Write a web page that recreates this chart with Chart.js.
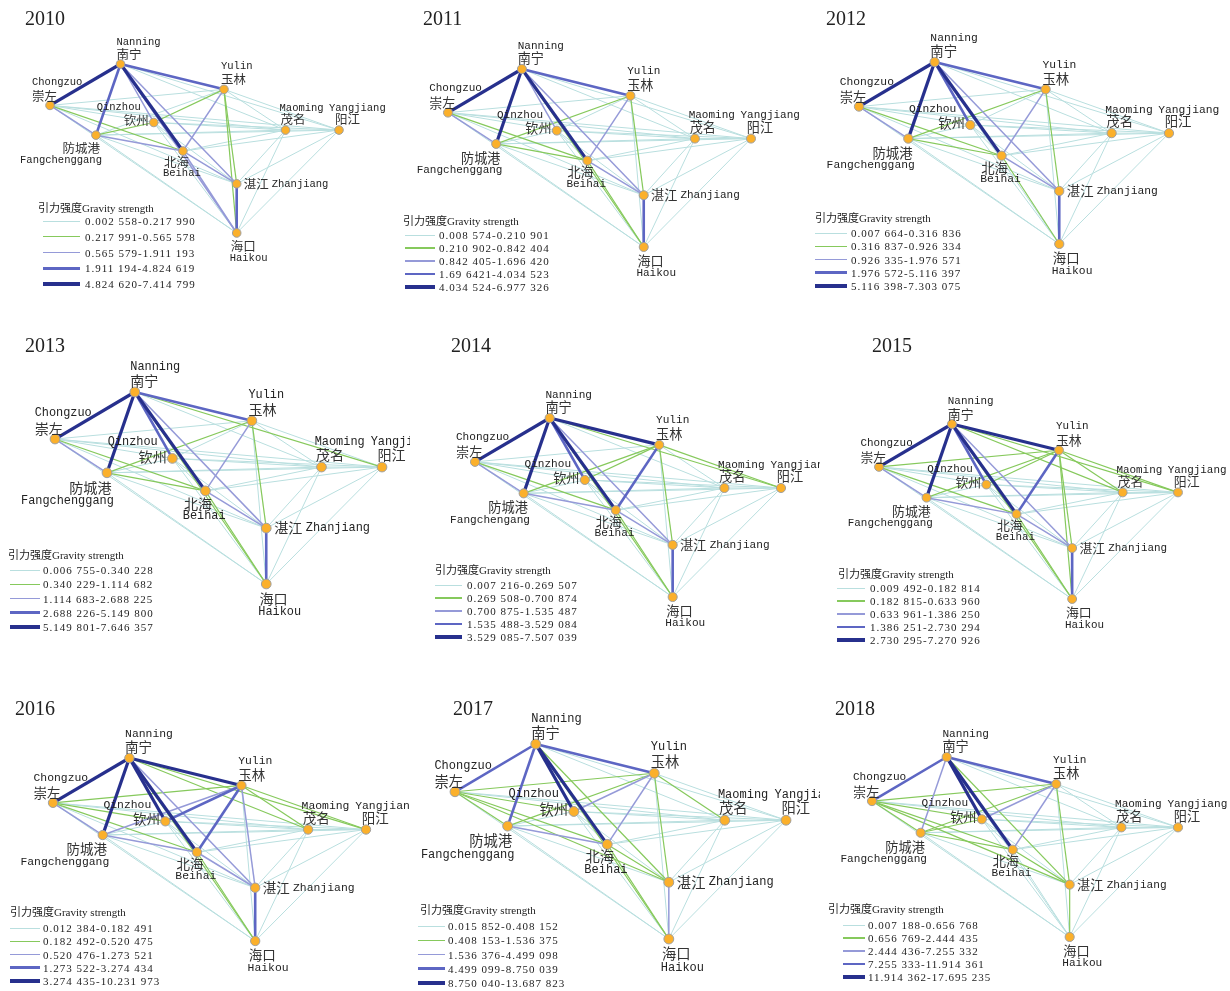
<!DOCTYPE html>
<html>
<head>
<meta charset="utf-8">
<script src="https://cdn.jsdelivr.net/npm/chart.js@4.4.1/dist/chart.umd.min.js"></script>
<style>
  body { margin: 0; background: #fff; width: 1230px; height: 991px; position: relative; overflow: hidden; }
  canvas { position: absolute; }
  .year { position: absolute; font: 20px "Liberation Serif", serif; color: #222; transform: translateY(-50%); white-space: nowrap; }
  .lg-title { position: absolute; font: 11px "Liberation Serif", "Noto Sans CJK SC", serif; color: #222; transform: translateY(-50%); white-space: nowrap; }
  .lg-text { position: absolute; font: 11px "Liberation Serif", serif; letter-spacing: 1px; color: #222; transform: translateY(-50%); white-space: nowrap; }
  .lg-line { position: absolute; }
</style>
</head>
<body>
<script>
/* DATA */

const years = ['2010', '2011', '2012', '2013', '2014', '2015', '2016', '2017', '2018'];

const cityZh = ['南宁', '崇左', '玉林', '钦州', '防城港', '北海', '茂名', '阳江', '湛江', '海口'];
const cityEn = ['Nanning', 'Chongzuo', 'Yulin', 'Qinzhou', 'Fangchenggang', 'Beihai', 'Maoming', 'Yangjiang', 'Zhanjiang', 'Haikou'];

// relative map position of each city (x to the east, y downwards)
const nodeX = [24.4, 0, 60.2, 35.9, 15.9, 46.0, 81.5, 100, 64.6, 64.6];
const nodeY = [0, 24.5, 15.0, 34.6, 42.1, 51.5, 39.1, 39.1, 70.9, 100];

// gravity class (1..5) of each city pair, row i holds pairs (i, i+1) ... (i, 9)
const links2010 = [[5,4,3,4,5,1,1,3,3],[1,1,3,2,1,1,1,1],[2,1,3,1,1,2,2],[2,1,1,1,1,1],[3,1,1,1,1],[1,1,3,3],[1,1,1],[1,1],[4]];
const links2011 = [[5,4,3,5,5,1,1,3,2],[1,1,3,2,1,1,1,1],[1,2,3,1,1,2,1],[1,1,1,1,1,1],[2,1,1,1,1],[1,1,3,2],[1,1,1],[1,1],[4]];
const links2012 = [[5,4,4,5,5,1,1,3,1],[1,1,3,2,1,1,1,1],[1,2,3,1,1,2,1],[1,1,1,1,1,1],[2,1,1,1,1],[1,1,3,2],[1,1,1],[1,1],[4]];
const links2013 = [[5,4,4,5,5,1,2,3,2],[1,1,3,2,1,1,1,1],[1,2,3,1,1,2,1],[1,1,1,1,1,1],[2,1,1,1,1],[1,1,3,2],[1,1,1],[1,1],[4]];
const links2014 = [[5,5,4,5,5,1,2,3,2],[1,1,3,2,1,1,1,1],[2,2,4,1,2,2,1],[1,1,1,1,1,1],[3,1,1,1,1],[1,1,3,2],[1,1,1],[1,1],[4]];
const links2015 = [[5,5,4,5,5,2,2,3,2],[2,1,3,2,1,1,1,1],[2,2,4,2,2,2,2],[1,1,1,1,1,1],[3,1,1,1,1],[1,1,3,2],[1,1,1],[1,1],[4]];
const links2016 = [[5,5,5,5,5,2,2,3,2],[2,2,3,2,1,1,1,1],[4,3,4,2,2,3,1],[1,1,1,1,1,1],[3,1,1,1,1],[1,1,3,2],[1,1,1],[1,1],[4]];
const links2017 = [[4,4,5,4,5,1,1,2,2],[2,2,2,2,1,1,2,1],[3,2,3,2,1,2,1],[1,1,1,1,1,1],[3,1,1,1,1],[1,1,2,2],[1,1,1],[1,1],[3]];
const links2018 = [[4,4,5,3,5,1,1,2,1],[2,2,2,2,1,1,2,1],[3,2,3,1,1,2,1],[2,1,1,1,1,1],[2,1,1,1,1],[1,1,2,1],[1,1,1],[1,1],[2]];

const breaks2010 = ['0.002 558-0.217 990', '0.217 991-0.565 578', '0.565 579-1.911 193', '1.911 194-4.824 619', '4.824 620-7.414 799'];
const breaks2011 = ['0.008 574-0.210 901', '0.210 902-0.842 404', '0.842 405-1.696 420', '1.69 6421-4.034 523', '4.034 524-6.977 326'];
const breaks2012 = ['0.007 664-0.316 836', '0.316 837-0.926 334', '0.926 335-1.976 571', '1.976 572-5.116 397', '5.116 398-7.303 075'];
const breaks2013 = ['0.006 755-0.340 228', '0.340 229-1.114 682', '1.114 683-2.688 225', '2.688 226-5.149 800', '5.149 801-7.646 357'];
const breaks2014 = ['0.007 216-0.269 507', '0.269 508-0.700 874', '0.700 875-1.535 487', '1.535 488-3.529 084', '3.529 085-7.507 039'];
const breaks2015 = ['0.009 492-0.182 814', '0.182 815-0.633 960', '0.633 961-1.386 250', '1.386 251-2.730 294', '2.730 295-7.270 926'];
const breaks2016 = ['0.012 384-0.182 491', '0.182 492-0.520 475', '0.520 476-1.273 521', '1.273 522-3.274 434', '3.274 435-10.231 973'];
const breaks2017 = ['0.015 852-0.408 152', '0.408 153-1.536 375', '1.536 376-4.499 098', '4.499 099-8.750 039', '8.750 040-13.687 823'];
const breaks2018 = ['0.007 188-0.656 768', '0.656 769-2.444 435', '2.444 436-7.255 332', '7.255 333-11.914 361', '11.914 362-17.695 235'];

const allLinks = [links2010, links2011, links2012, links2013, links2014, links2015, links2016, links2017, links2018];
const allBreaks = [breaks2010, breaks2011, breaks2012, breaks2013, breaks2014, breaks2015, breaks2016, breaks2017, breaks2018];

/* STYLE + LAYOUT */

const lineColor = ['#b9dfdf', '#86c95c', '#959ad8', '#5d66c3', '#27308d'];
const lineWidth = [1, 1.2, 1.5, 2.6, 3.2];
const legendWidth = [1, 1.3, 1.6, 2.6, 3.4];

// cell = canvas rect, box = pixel extent of the nodes (left, top, right, bottom)
// legend = [titleX, titleY, lineX, lineLen, textX, firstRowY, rowGap]
const panels = [
  { cell: [0, 0, 410, 330],     box: [50, 64, 339, 233],   title: [25, 18],   legend: [38, 207, 43, 37, 85, 221, 15.75] },
  { cell: [410, 0, 410, 330],   box: [448, 69, 751, 247],  title: [423, 18],  legend: [403, 220, 405, 30, 439, 235, 13] },
  { cell: [820, 0, 410, 330],   box: [859, 62, 1169, 244], title: [826, 18],  legend: [815, 217, 815, 32, 851, 233, 13.25] },
  { cell: [0, 330, 410, 360],   box: [55, 392, 382, 584],  title: [25, 345],  legend: [8, 554, 10, 30, 43, 570, 14.25] },
  { cell: [410, 330, 410, 360], box: [475, 418, 781, 597], title: [451, 345], legend: [435, 569, 435, 27, 467, 585, 13] },
  { cell: [820, 330, 410, 360], box: [879, 424, 1178, 599], title: [872, 345], legend: [838, 573, 837, 28, 870, 588, 13] },
  { cell: [0, 690, 410, 301],   box: [53, 758, 366, 941],  title: [15, 708],  legend: [10, 911, 10, 30, 43, 928, 13.25] },
  { cell: [410, 690, 410, 301], box: [455, 744, 786, 939], title: [453, 708], legend: [420, 909, 418, 27, 448, 926, 14.25] },
  { cell: [820, 690, 410, 301], box: [872, 757, 1178, 937], title: [835, 708], legend: [828, 908, 843, 22, 868, 925, 13] },
];

// [enDx, enDy, enAlign, zhDx, zhDy, zhAlign] at base scale; Zhanjiang puts English after the Chinese
const labelPos = [
  [-4, -22, 'left', -4, -10, 'left'],
  [-18, -23, 'left', -18, -9, 'left'],
  [-3, -23, 'left', -3, -10, 'left'],
  [-13, -15, 'right', -5, -2, 'right'],
  [6, 25, 'right', 4, 13, 'right'],
  [-20, 22, 'left', -19, 11, 'left'],
  [-6, -22, 'left', -5, -11, 'left'],
  [-10, -22, 'left', -4, -11, 'left'],
  ['after', 0, 'left', 7, 0, 'left'],
  [-7, 25, 'left', -6, 13, 'left'],
];

const cityLabels = {
  id: 'cityLabels',
  afterDatasetsDraw(chart, args, opts) {
    const ctx = chart.ctx;
    const sx = chart.scales.x, sy = chart.scales.y;
    const s = opts.scale;
    const names = opts.names;
    ctx.save();
    ctx.textBaseline = 'middle';
    nodeX.forEach(function(v, i) {
      const px = sx.getPixelForValue(v);
      const py = sy.getPixelForValue(nodeY[i]);
      const p = labelPos[i];
      ctx.fillStyle = '#333';
      ctx.font = (12.5 * s).toFixed(1) + 'px "Noto Sans CJK SC"';
      ctx.textAlign = p[5];
      ctx.fillText(cityZh[i], px + p[3] * s, py + p[4] * s);
      const zw = ctx.measureText(cityZh[i]).width;
      ctx.fillStyle = '#222';
      ctx.font = (10.5 * s).toFixed(1) + 'px "Liberation Mono"';
      ctx.textAlign = p[2];
      const ex = p[0] === 'after' ? px + p[3] * s + zw + 3 * s : px + p[0] * s;
      ctx.fillText(names[i], ex, py + p[1] * s);
    });
    ctx.restore();
  }
};

function addDiv(cls, text, left, top) {
  const d = document.createElement('div');
  d.className = cls;
  d.textContent = text;
  d.style.left = left + 'px';
  d.style.top = top + 'px';
  document.body.appendChild(d);
  return d;
}

panels.forEach(function(p, k) {
  const links = allLinks[k];
  const [cl, ct, cw, ch] = p.cell;
  const [bl, bt, br, bb] = p.box;
  const s = (br - bl) / 289;

  const canvas = document.createElement('canvas');
  canvas.width = cw;
  canvas.height = ch;
  canvas.style.left = cl + 'px';
  canvas.style.top = ct + 'px';
  canvas.style.width = cw + 'px';
  canvas.style.height = ch + 'px';
  document.body.appendChild(canvas);

  const datasets = [{
    data: nodeX.map(function(x, i) { return { x: x, y: nodeY[i] }; }),
    pointRadius: 4.3 * s,
    pointBackgroundColor: '#fbb02b',
    pointBorderColor: '#a0a0a0',
    pointBorderWidth: 1,
    showLine: false,
    order: 0,
    clip: false,
  }];

  for (let i = 0; i < 9; i++) {
    for (let j = i + 1; j < 10; j++) {
      const c = links[i][j - i - 1];
      datasets.push({
        data: [{ x: nodeX[i], y: nodeY[i] }, { x: nodeX[j], y: nodeY[j] }],
        showLine: true,
        borderColor: lineColor[c - 1],
        borderWidth: lineWidth[c - 1],
        pointRadius: 0,
        order: 10 - c,
        clip: false,
      });
    }
  }

  const names = cityEn.slice();
  if (years[k] === '2014') names[4] = 'Fangchengang';

  new Chart(canvas, {
    type: 'scatter',
    data: { datasets: datasets },
    options: {
      responsive: false,
      animation: false,
      events: [],
      devicePixelRatio: 1,
      layout: { padding: { left: bl - cl, top: bt - ct, right: cl + cw - br, bottom: ct + ch - bb } },
      scales: {
        x: { type: 'linear', min: 0, max: 100, display: false },
        y: { type: 'linear', min: 0, max: 100, reverse: true, display: false },
      },
      plugins: {
        legend: { display: false },
        tooltip: { enabled: false },
        cityLabels: { scale: s, names: names },
      },
    },
    plugins: [cityLabels],
  });

  // year title
  addDiv('year', years[k], p.title[0], p.title[1]);

  // legend
  const [tx, ty, lx, ll, txx, ry, gap] = p.legend;
  addDiv('lg-title', '引力强度Gravity strength', tx, ty);
  allBreaks[k].forEach(function(label, c) {
    const y = ry + c * gap;
    const ln = document.createElement('div');
    ln.className = 'lg-line';
    ln.style.left = lx + 'px';
    ln.style.width = ll + 'px';
    ln.style.height = legendWidth[c] + 'px';
    ln.style.top = (y - legendWidth[c] / 2) + 'px';
    ln.style.background = lineColor[c];
    document.body.appendChild(ln);
    addDiv('lg-text', label, txx, y);
  });
});
</script>
</body>
</html>
